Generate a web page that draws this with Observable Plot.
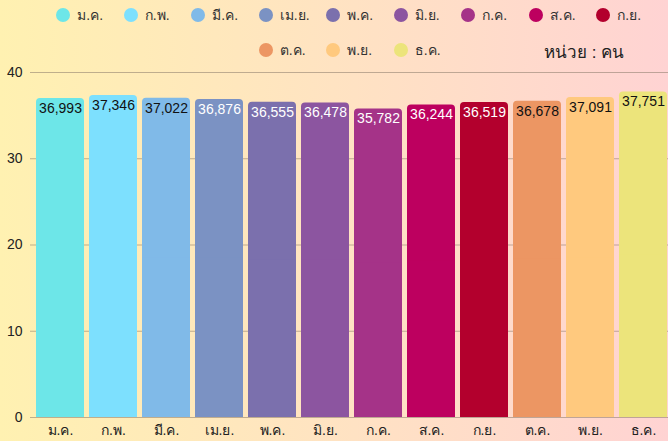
<!DOCTYPE html>
<html>
<head>
<meta charset="utf-8">
<script src="https://cdn.jsdelivr.net/npm/d3@7"></script>
<script src="https://cdn.jsdelivr.net/npm/@observablehq/plot@0.6"></script>
<style>
  html, body { margin: 0; padding: 0; overflow: hidden; }
  body {
    width: 668px; height: 441px; position: relative;
    background: linear-gradient(to right, #fff1b1 0%, #ffe3c2 50%, #ffd3d3 100%);
    font-family: "Liberation Sans", "Noto Sans", sans-serif;
  }
  #chart { position: absolute; left: 0; top: 0; }
  #legend {
    position: absolute; left: 55px; top: 4px; width: 610px;
    display: flex; flex-wrap: wrap; justify-content: center; row-gap: 13px;
  }
  .item { width: 67.5px; height: 22px; display: flex; align-items: center; font-size: 14px; color: #333; }
  .dot { width: 14px; height: 14px; border-radius: 50%; margin-right: 7px; flex: none; }
  #unit { position: absolute; left: 544px; top: 38px; font-size: 17px; color: #222; font-weight: normal; }
</style>
</head>
<body>
<div id="chart"></div>
<div id="legend"></div>
<div id="unit">หน่วย : คน</div>
<script>
const months = ["ม.ค.", "ก.พ.", "มี.ค.", "เม.ย.", "พ.ค.", "มิ.ย.", "ก.ค.", "ส.ค.", "ก.ย.", "ต.ค.", "พ.ย.", "ธ.ค."];
const values = [36993, 37346, 37022, 36876, 36555, 36478, 35782, 36244, 36519, 36678, 37091, 37751];
const colors = ["#6de6e8", "#7de0fe", "#80bae8", "#7b92c3", "#7b70ad", "#8c55a0", "#a53388", "#bd005f", "#b3002d", "#ec9663", "#ffc97e", "#ece47b"];
const labelColors = ["#111", "#111", "#111", "#fff", "#fff", "#fff", "#fff", "#fff", "#fff", "#111", "#111", "#111"];
const yTicks = [0, 10, 20, 30, 40];

const data = months.map((m, i) => ({ month: m, value: values[i], k: values[i] / 1000, color: colors[i], lc: labelColors[i] }));

const chart = Plot.plot({
  width: 668,
  height: 441,
  marginTop: 72,
  marginBottom: 24,
  marginLeft: 30,
  marginRight: 0,
  style: { background: "transparent", fontSize: "14px", color: "#222", overflow: "hidden", fontFamily: "'Liberation Sans', 'Noto Sans', sans-serif" },
  x: { domain: months, range: [30.3, 672.3], paddingInner: 0.1, paddingOuter: 0.05, label: null, tickSize: 0, tickPadding: 8 },
  y: { domain: [0, 40], ticks: yTicks, label: null, tickSize: 0, tickPadding: 8 },
  marks: [
    Plot.ruleY(yTicks, { stroke: "#8a7a6a", strokeOpacity: 0.55 }),
    Plot.barY(data, { x: "month", y: "k", fill: "color", rx: 4 }),
    Plot.barY(data, { x: "month", y: d => d.k / 2, fill: "color" }),
    Plot.text(data, { x: "month", y: "k", text: d => d3.format(",")(d.value), fill: "lc", dy: 10, fontSize: 14 }),
    Plot.axisX({ tickSize: 0, tickPadding: 8, fontSize: 14, label: null }),
    Plot.axisY({ ticks: yTicks, tickSize: 0, tickPadding: 8, fontSize: 14, label: null })
  ]
});
document.getElementById("chart").appendChild(chart);

const legend = document.getElementById("legend");
months.forEach((m, i) => {
  const it = document.createElement("div");
  it.className = "item";
  const dot = document.createElement("span");
  dot.className = "dot";
  dot.style.background = colors[i];
  const t = document.createElement("span");
  t.textContent = m;
  it.appendChild(dot); it.appendChild(t);
  legend.appendChild(it);
});
</script>
</body>
</html>
